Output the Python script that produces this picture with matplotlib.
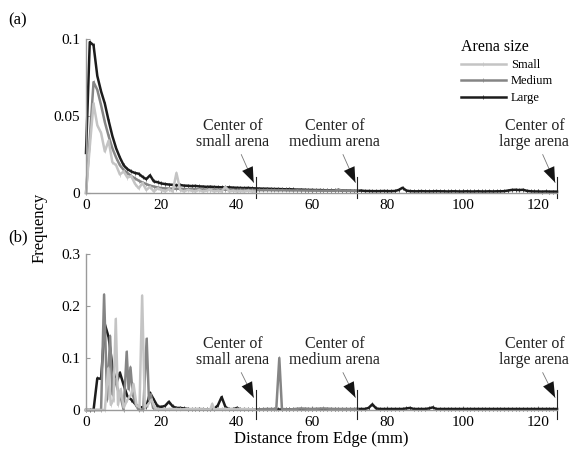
import numpy as np
import matplotlib
matplotlib.use("Agg")
import matplotlib.pyplot as plt

plt.rcParams['font.family'] = ['Liberation Serif', 'DejaVu Serif']

# ── data: panel (a), 1 mm bins from the edge ─────────────────────────────
a_large = [
    0.026, 0.098, 0.096, 0.076, 0.066, 0.058, 0.047, 0.037, 0.029, 0.023,
    0.018, 0.0155, 0.014, 0.013, 0.0125, 0.0105, 0.009, 0.0115, 0.0075, 0.007,
    0.0062, 0.0058, 0.0055, 0.0053, 0.005, 0.0052, 0.0048, 0.0047, 0.0045, 0.0046,
    0.0043, 0.0042, 0.004, 0.0041, 0.0039, 0.0038, 0.0037, 0.0036, 0.0037, 0.0035,
    0.0034, 0.0033, 0.0032, 0.0033, 0.0031, 0.003, 0.0029, 0.0028, 0.0028, 0.0027,
    0.0026, 0.0026, 0.0025, 0.0024, 0.0025, 0.0023, 0.0022, 0.0022, 0.0021, 0.002,
    0.002, 0.0019, 0.0019, 0.0018, 0.0018, 0.0017, 0.0017, 0.0019, 0.0016, 0.0015,
    0.0015, 0.0014, 0.0014, 0.0016, 0.0013, 0.0013, 0.0012, 0.0012, 0.0012, 0.0013,
    0.0012, 0.0012, 0.0013, 0.002, 0.0034, 0.0016, 0.0012, 0.0011, 0.0011, 0.0012,
    0.0011, 0.0011, 0.0011, 0.0012, 0.0011, 0.0011, 0.001, 0.0011, 0.0011, 0.001,
    0.001, 0.0011, 0.001, 0.001, 0.0011, 0.001, 0.001, 0.0011, 0.001, 0.0011,
    0.0011, 0.0012, 0.0016, 0.002, 0.0021, 0.0019, 0.0021, 0.0014, 0.0011, 0.001,
    0.001, 0.0009, 0.001, 0.0009, 0.0009, 0.0009]
a_medium = [
    0.0, 0.035, 0.072, 0.067, 0.057, 0.046, 0.037, 0.029, 0.023, 0.018,
    0.015, 0.013, 0.011, 0.0095, 0.008, 0.0068, 0.0058, 0.0048, 0.0042, 0.0036,
    0.0032, 0.003, 0.0029, 0.0028, 0.0027, 0.0028, 0.0026, 0.0025, 0.0026, 0.0024,
    0.0024, 0.0023, 0.0023, 0.0022, 0.0023, 0.0022, 0.0021, 0.0022, 0.0021, 0.002,
    0.002, 0.0021, 0.002, 0.0019, 0.002, 0.0019, 0.0019, 0.0018, 0.0019, 0.0018,
    0.0018, 0.0017, 0.0018, 0.0017, 0.0017, 0.0016, 0.0017, 0.0016, 0.0016, 0.0016,
    0.0015, 0.0016, 0.0015, 0.0015, 0.0016, 0.0015, 0.0015, 0.0022, 0.0015, 0.0014,
    0.0014, 0.0014, 0.0014]
a_small = [
    0.0, 0.03, 0.058, 0.044, 0.039, 0.027, 0.034, 0.02, 0.018, 0.012,
    0.014, 0.01, 0.011, 0.006, 0.003, 0.0065, 0.002, 0.004, 0.001, 0.003,
    0.002, 0.001, 0.0025, 0.001, 0.013, 0.002, 0.001, 0.002, 0.0015, 0.001,
    0.002, 0.001, 0.0015, 0.002, 0.001, 0.0015, 0.001, 0.004, 0.001, 0.0015,
    0.001, 0.0012, 0.001, 0.0015, 0.001, 0.001]

# ── data: panel (b) ───────────────────────────────────────────────────────
b_large = [
    0.0, 0.0, 0.0, 0.061, 0.06, 0.165, 0.14, 0.085, 0.05, 0.072,
    0.048, 0.026, 0.02, 0.012, 0.006, 0.005, 0.006, 0.033, 0.02, 0.007,
    0.006, 0.008, 0.016, 0.007, 0.004, 0.004, 0.003, 0.002, 0.001, 0.001,
    0.001, 0.001, 0.001, 0.001, 0.002, 0.009, 0.025, 0.006, 0.001, 0.001,
    0.004, 0.001, 0.001, 0.001, 0.001, 0.001, 0.001, 0.001, 0.001, 0.001,
    0.001, 0.001, 0.001, 0.001, 0.001, 0.001, 0.001, 0.001, 0.001, 0.001,
    0.001, 0.001, 0.001, 0.001, 0.001, 0.001, 0.001, 0.001, 0.001, 0.001,
    0.001, 0.001, 0.002, 0.002, 0.002, 0.004, 0.011, 0.003, 0.002, 0.002,
    0.002, 0.002, 0.002, 0.002, 0.002, 0.003, 0.004, 0.002, 0.002, 0.002,
    0.002, 0.003, 0.005, 0.002, 0.002, 0.002, 0.002, 0.002, 0.002, 0.002,
    0.002, 0.002, 0.002, 0.002, 0.002, 0.002, 0.002, 0.002, 0.002, 0.002,
    0.002, 0.002, 0.002, 0.002, 0.002, 0.002, 0.002, 0.002, 0.002, 0.002,
    0.002, 0.002, 0.002, 0.002, 0.002, 0.002]
b_medium_x = [0, 4, 4.8, 5.6, 6.4, 7.0, 7.6, 8.4, 9.2, 10.0, 10.8, 11.3, 11.8,
              12.4, 13.2, 14.0, 15.2, 16.1, 16.7, 17.2, 17.8, 19, 21, 24, 27,
              30, 33, 36, 39, 42, 45, 48, 50.5, 51.3, 52.0, 54, 57, 60, 63, 66,
              69, 72]
b_medium_y = [0, 0, 0.222, 0.02, 0.142, 0.03, 0.06, 0.04, 0.025, 0.0, 0.112,
              0.04, 0.082, 0.03, 0.01, 0.0, 0.0, 0.137, 0.02, 0.03, 0.004, 0.002,
              0.001, 0.002, 0.001, 0.002, 0.001, 0.001, 0.002, 0.001, 0.001,
              0.002, 0.002, 0.1, 0.002, 0.001, 0.003, 0.002, 0.003, 0.002, 0.002,
              0.002]
b_small_x = [0, 5.0, 5.9, 6.6, 7.3, 7.9, 8.5, 9.2, 10.0, 11.0, 12.0, 12.6,
             13.4, 14.2, 14.9, 15.6, 16.4, 17.4, 18.2, 19, 22, 25, 28, 31, 33.0,
             33.5, 34.0, 37, 40, 42, 45]
b_small_y = [0, 0, 0.08, 0.01, 0.02, 0.175, 0.01, 0.04, 0.005, 0.02, 0.03,
             0.05, 0.01, 0.005, 0.22, 0.005, 0.01, 0.02, 0.005, 0.001, 0.002,
             0.001, 0.002, 0.001, 0.001, 0.012, 0.001, 0.002, 0.001, 0.002,
             0.001]

centers = [45, 72, 125]
center_labels = ['Center of\nsmall arena', 'Center of\nmedium arena',
                 'Center of\nlarge arena']
x_ticks = [0, 20, 40, 60, 80, 100, 120]
a_yticks = [0, 0.05, 0.1]
a_ylabels = ['0', '0.05', '0.1']
b_yticks = [0, 0.1, 0.2, 0.3]
b_ylabels = ['0', '0.1', '0.2', '0.3']

C_LARGE, C_MED, C_SMALL = '#1c1c1c', '#858585', '#c4c4c4'
AX_COL = '#9a9a9a'
LINE_KW = dict(lw=1.8, marker='|', ms=2.5, mew=0.5, clip_on=False)

fig = plt.figure(figsize=(5.72, 4.51), dpi=100)
ax_a = fig.add_axes([86/572, 1-193/451, 471/572, 154/451])
ax_b = fig.add_axes([86/572, 1-410/451, 471/572, 156/451])


def style(ax, yticks, ylabels, ymax):
    ax.set_xlim(0, 125)
    ax.set_ylim(0, ymax)
    for s in ['top', 'right']:
        ax.spines[s].set_visible(False)
    for s in ['left', 'bottom']:
        ax.spines[s].set_color(AX_COL)
        ax.spines[s].set_linewidth(1.0)
    ax.spines['bottom'].set_bounds(0, 125)
    ax.set_xticks(x_ticks)
    ax.set_yticks(yticks)
    ax.set_yticklabels(ylabels)
    ax.tick_params(direction='in', length=3, width=0.8, color=AX_COL,
                   labelsize=11, pad=4)
    ax.patch.set_alpha(0)


def centers_and_arrows(ax, y_top, y_bot, tip_y, start_y, text_y):
    for cx, lab in zip(centers, center_labels):
        ax.plot([cx, cx], [y_bot, y_top], color='#222222', lw=0.8, clip_on=False)
        # thin grey shaft, then a filled black head
        ax.annotate('', xy=(cx - 0.5, tip_y), xytext=(cx - 3.8, start_y),
                    arrowprops=dict(arrowstyle='-', color='#777777', lw=0.6,
                                    shrinkA=0, shrinkB=0),
                    annotation_clip=False)
        ax.annotate('', xy=(cx - 0.5, tip_y), xytext=(cx - 3.8, start_y),
                    arrowprops=dict(arrowstyle='-|>,head_length=1.1,head_width=0.42',
                                    color='#151515', lw=0.0, shrinkA=0, shrinkB=0),
                    annotation_clip=False)
        ax.text(cx - 6, text_y, lab, ha='center', va='center', fontsize=11.5,
                linespacing=1.0, color='#222222')


# ── (a) ───────────────────────────────────────────────────────────────────
ax_a.plot(np.arange(len(a_large)), a_large, color=C_LARGE, label='Large', **LINE_KW)
ax_a.plot(np.arange(len(a_medium)), a_medium, color=C_MED, label='Medium', **LINE_KW)
ax_a.plot(np.arange(len(a_small)), a_small, color=C_SMALL, label='Small', **LINE_KW)
style(ax_a, a_yticks, a_ylabels, 0.1)
centers_and_arrows(ax_a, 0.0105, -0.0035, 0.0068, 0.025, 0.0385)

h, l = ax_a.get_legend_handles_labels()
leg = ax_a.legend(h[::-1], l[::-1], title='Arena size', loc='upper left',
                  bbox_to_anchor=(452/572, 1-30/451), bbox_transform=fig.transFigure,
                  frameon=False, fontsize=9, title_fontsize=11.5, handlelength=3.6,
                  labelspacing=0.35, handletextpad=0.4, borderpad=0.2)
leg._legend_box.align = 'left'

# ── (b) ───────────────────────────────────────────────────────────────────
ax_b.plot(np.arange(len(b_large)), b_large, color=C_LARGE, **LINE_KW)
ax_b.plot(b_medium_x, b_medium_y, color=C_MED, **LINE_KW)
ax_b.plot(b_small_x, b_small_y, color=C_SMALL, **LINE_KW)
style(ax_b, b_yticks, b_ylabels, 0.3)
centers_and_arrows(ax_b, 0.038, -0.017, 0.024, 0.072, 0.112)
ax_b.set_xlabel('Distance from Edge (mm)', fontsize=12, labelpad=2)

fig.text(18/572, 1-20/451, '(a)', fontsize=12, ha='center', va='center')
fig.text(18/572, 1-237/451, '(b)', fontsize=12, ha='center', va='center')
fig.text(40/572, 1-228/451, 'Frequency', fontsize=12, rotation=90,
         ha='center', va='center')

plt.savefig('out.png', dpi=100)
